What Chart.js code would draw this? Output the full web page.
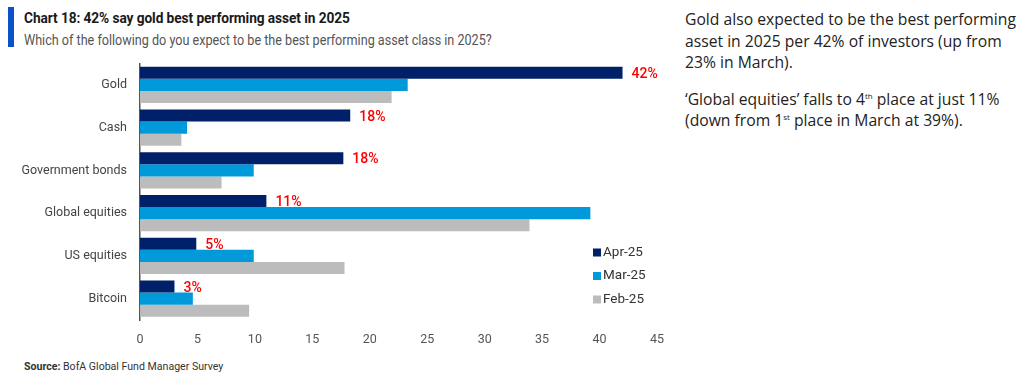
<!DOCTYPE html>
<html>
<head>
<meta charset="utf-8">
<script src="https://cdn.jsdelivr.net/npm/chart.js@4.4.1/dist/chart.umd.min.js"></script>
<style>
  html, body { margin: 0; padding: 0; background: #fff; width: 1024px; height: 377px; overflow: hidden; }
  body { position: relative; font-family: Roboto, "Liberation Sans", sans-serif; }
  .bar { position: absolute; left: 8px; top: 7px; width: 6px; height: 40px; background: #0a52c8; }
  .title { position: absolute; left: 24px; top: 9px; font-size: 15.5px; font-weight: bold; color: #1a1a1a; white-space: nowrap; transform-origin: 0 0; transform: scaleX(0.885); letter-spacing: -0.1px; }
  .subtitle { position: absolute; left: 24px; top: 32px; font-size: 14px; color: #555; white-space: nowrap; transform-origin: 0 0; transform: scaleX(0.9); }
  .side { position: absolute; left: 685px; top: 9px; width: 340px; font-family: "Open Sans", sans-serif; font-size: 15.7px; line-height: 21.5px; color: #222; }
  .side p { margin: 0 0 15px 0; white-space: nowrap; }
  .side sup { font-size: 8px; vertical-align: 6px; line-height: 0; }
  .source { position: absolute; left: 24px; top: 359px; font-size: 11.5px; color: #333; white-space: nowrap; transform-origin: 0 0; transform: scaleX(0.92); }
  #wrap { position: absolute; left: 0; top: 43px; width: 680px; height: 307px; }
  canvas { display: block; }
</style>
</head>
<body>
<div class="bar"></div>
<div class="title">Chart 18: 42% say gold best performing asset in 2025</div>
<div class="subtitle">Which of the following do you expect to be the best performing asset class in 2025?</div>
<div class="side">
  <p>Gold also expected to be the best performing<br>asset in 2025 per 42% of investors (up from<br>23% in March).</p>
  <p>‘Global equities’ falls to 4<sup>th</sup> place at just 11%<br>(down from 1<sup>st</sup> place in March at 39%).</p>
</div>
<div class="source"><b>Source:</b> BofA Global Fund Manager Survey</div>
<div id="wrap"><canvas id="c" width="680" height="307"></canvas></div>
<script>
const categories = ["Gold", "Cash", "Government bonds", "Global equities", "US equities", "Bitcoin"];
const seriesNames = ["Apr-25", "Mar-25", "Feb-25"];
const apr25 = [42, 18.3, 17.7, 11, 4.9, 3];
const mar25 = [23.3, 4.1, 9.9, 39.2, 9.9, 4.6];
const feb25 = [21.9, 3.6, 7.1, 33.9, 17.8, 9.5];
const xTicks = [0, 5, 10, 15, 20, 25, 30, 35, 40, 45];

const colors = ["#002169", "#009ada", "#bcbcbc"];

const labelPlugin = {
  id: 'barLabels',
  afterDatasetsDraw(chart) {
    const ctx = chart.ctx;
    const meta = chart.getDatasetMeta(0);
    ctx.save();
    ctx.fillStyle = '#ff0000';
    ctx.font = '500 14px Roboto, sans-serif';
    ctx.textAlign = 'left';
    ctx.textBaseline = 'middle';
    meta.data.forEach((el, i) => {
      const v = chart.data.datasets[0].data[i];
      ctx.fillText(Math.round(v) + '%', el.x + 9, el.y + 1.5);
    });
    ctx.restore();
  }
};

const legendPlugin = {
  id: 'innerLegend',
  afterDraw(chart) {
    const ctx = chart.ctx;
    ctx.save();
    ctx.font = '13.5px Roboto, sans-serif';
    ctx.textBaseline = 'middle';
    ctx.textAlign = 'left';
    const x0 = 593, y0 = chart.chartArea.top + 189, gap = 23.5;
    chart.data.datasets.forEach((ds, i) => {
      const y = y0 + i * gap;
      ctx.fillStyle = ds.backgroundColor;
      ctx.fillRect(x0, y - 4, 8, 8);
      ctx.fillStyle = '#333';
      ctx.fillText(ds.label, x0 + 10, y);
    });
    ctx.restore();
  }
};

new Chart(document.getElementById('c'), {
  type: 'bar',
  data: {
    labels: categories,
    datasets: [
      { label: seriesNames[0], data: apr25, backgroundColor: colors[0] },
      { label: seriesNames[1], data: mar25, backgroundColor: colors[1] },
      { label: seriesNames[2], data: feb25, backgroundColor: colors[2] }
    ]
  },
  options: {
    indexAxis: 'y',
    responsive: false,
    animation: false,
    layout: { padding: { left: 0, right: 23, top: 9, bottom: 0 } },
    datasets: { bar: { categoryPercentage: 0.85, barPercentage: 1.0, borderWidth: 0 } },
    plugins: { legend: { display: false }, tooltip: { enabled: false } },
    scales: {
      x: {
        min: 0, max: 45,
        afterFit(scale) { scale.height = 30; },
        afterBuildTicks(scale) { scale.ticks = xTicks.map(v => ({ value: v })); },
        grid: { display: false, drawTicks: false },
        border: { display: false },
        ticks: { color: '#555', font: { family: 'Roboto, sans-serif', size: 12.5 }, padding: 12 }
      },
      y: {
        afterFit(scale) { scale.width = 140; },
        grid: { display: false, drawTicks: false },
        border: { display: true, color: '#555', width: 1.5 },
        ticks: { color: '#444', font: { family: 'Roboto, sans-serif', size: 12.5 }, padding: 13 }
      }
    }
  },
  plugins: [labelPlugin, legendPlugin]
});
</script>
</body>
</html>
